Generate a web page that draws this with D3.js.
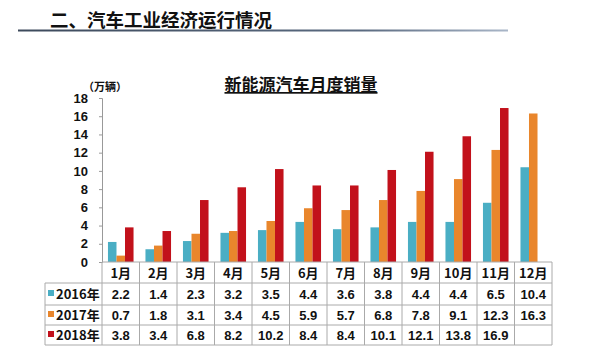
<!DOCTYPE html>
<html><head><meta charset="utf-8">
<script src="https://cdn.jsdelivr.net/npm/d3@7"></script>
<style>body{margin:0;background:#fff}svg{display:block}</style>
</head><body>
<script>
const months = ["1月","2月","3月","4月","5月","6月","7月","8月","9月","10月","11月","12月"];
const seriesNames = ["2016年","2017年","2018年"];
const s2016 = [2.2,1.4,2.3,3.2,3.5,4.4,3.6,3.8,4.4,4.4,6.5,10.4];
const s2017 = [0.7,1.8,3.1,3.4,4.5,5.9,5.7,6.8,7.8,9.1,12.3,16.3];
const s2018 = [3.8,3.4,6.8,8.2,10.2,8.4,8.4,10.1,12.1,13.8,16.9,null];
const yTicks = [0,2,4,6,8,10,12,14,16,18];
const colors = ["#4aaec4","#e9862c","#c2111b"];
const allSeries = [s2016,s2017,s2018];

const W=600,H=351;
const svg=d3.select("body").append("svg").attr("width",W).attr("height",H);
const font="Liberation Sans, Arial, sans-serif";
const cjk="'Noto Sans CJK SC', sans-serif";

// heading
svg.append("text").attr("x",50).attr("y",27).attr("font-family",cjk).attr("font-weight","bold")
  .attr("font-size",18.5).attr("fill","#111").text("二、汽车工业经济运行情况");
const grad=svg.append("defs").append("linearGradient").attr("id","hl");
grad.append("stop").attr("offset","0").attr("stop-color","#3d4a5c");
grad.append("stop").attr("offset","0.7").attr("stop-color","#5a6a80");
grad.append("stop").attr("offset","1").attr("stop-color","#a9b6c8");
svg.append("rect").attr("x",18).attr("y",29.5).attr("width",490).attr("height",2).attr("fill","url(#hl)");

// chart title
svg.append("text").attr("x",301).attr("y",91).attr("text-anchor","middle")
  .attr("font-family",cjk).attr("font-weight","bold").attr("font-size",17).attr("fill","#111")
  .attr("text-decoration","underline").text("新能源汽车月度销量");

const x0=102, x1=552;
const x=d3.scaleBand().domain(months).range([x0,x1]).paddingInner(0).paddingOuter(0);
const y=d3.scaleLinear().domain([0,18]).range([262,98]);
const xs=d3.scaleBand().domain(seriesNames).range([0,x.bandwidth()]).paddingInner(0).paddingOuter(0.7);

// y axis
const yAxis=d3.axisLeft(y).tickValues(yTicks).tickSize(3).tickPadding(11);
const ga=svg.append("g").attr("transform",`translate(${x0},0)`).call(yAxis);
ga.select(".domain").attr("stroke","#999");
ga.selectAll(".tick line").attr("stroke","#999");
ga.selectAll("text").attr("font-family",font).attr("font-weight","bold").attr("font-size",13).attr("fill","#111");
svg.append("text").attr("x",105).attr("y",91).attr("font-family",cjk).attr("font-weight","bold")
  .attr("font-size",11).attr("fill","#111").attr("text-anchor","middle").text("（万辆）");

// bars
allSeries.forEach((s,i)=>{
  svg.append("g").selectAll("rect").data(months.map((m,j)=>({m,v:s[j]})).filter(d=>d.v!=null))
    .join("rect")
    .attr("x",d=>x(d.m)+xs(seriesNames[i]))
    .attr("width",xs.bandwidth())
    .attr("y",d=>y(d.v)).attr("height",d=>y(0)-y(d.v))
    .attr("fill",colors[i]);
});

// table
const rowY=[262,283,305,325,345];
const tbl=svg.append("g").attr("stroke","#aaa").attr("stroke-width",1).attr("fill","none");
tbl.append("line").attr("x1",x0).attr("x2",x1).attr("y1",rowY[0]).attr("y2",rowY[0]);
for(let r=1;r<rowY.length;r++){
  tbl.append("line").attr("x1",45).attr("x2",x1).attr("y1",rowY[r]).attr("y2",rowY[r]);
}
months.forEach(m=>{
  tbl.append("line").attr("x1",x(m)).attr("x2",x(m)).attr("y1",rowY[0]).attr("y2",rowY[4]);
});
tbl.append("line").attr("x1",x1).attr("x2",x1).attr("y1",rowY[0]).attr("y2",rowY[4]);
tbl.append("line").attr("x1",45).attr("x2",45).attr("y1",rowY[1]).attr("y2",rowY[4]);

svg.append("g").selectAll("text").data(months).join("text")
  .attr("x",d=>x(d)+x.bandwidth()/2).attr("y",(rowY[0]+rowY[1])/2+5)
  .attr("text-anchor","middle").attr("font-family",cjk).attr("font-weight","bold")
  .attr("font-size",13).attr("fill","#111").text(d=>d);

allSeries.forEach((s,i)=>{
  const cy=(rowY[i+1]+rowY[i+2])/2+5;
  svg.append("rect").attr("x",48).attr("y",cy-9).attr("width",6).attr("height",6).attr("fill",colors[i]);
  svg.append("text").attr("x",56).attr("y",cy).attr("font-family",cjk).attr("font-weight","bold")
    .attr("font-size",13).attr("fill","#111").text(seriesNames[i]);
  svg.append("g").selectAll("text").data(months.map((m,j)=>({m,v:s[j]}))).join("text")
    .attr("x",d=>x(d.m)+x.bandwidth()/2).attr("y",cy)
    .attr("text-anchor","middle").attr("font-family",font).attr("font-weight","bold")
    .attr("font-size",13).attr("fill","#111").text(d=>d.v==null?"":d.v.toFixed(1));
});
</script>
</body></html>
